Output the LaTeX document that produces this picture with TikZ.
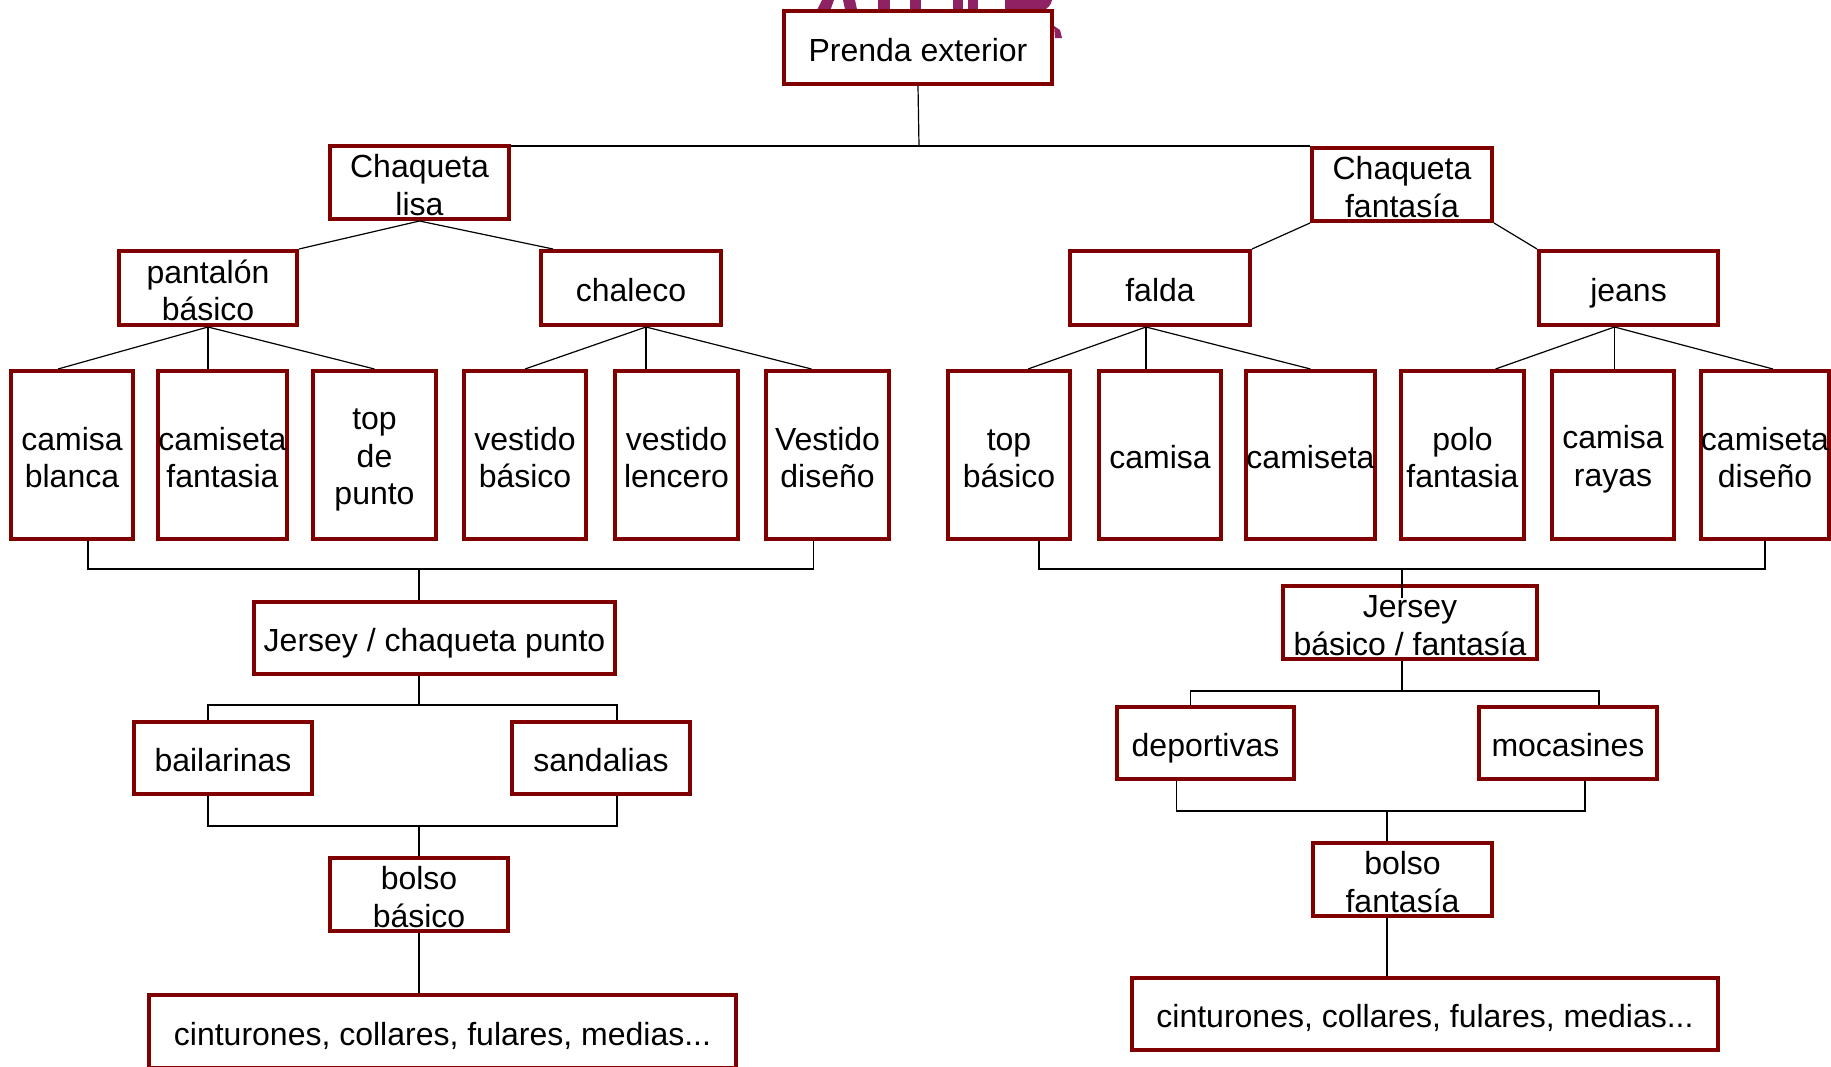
\documentclass[tikz,border=0pt]{standalone}
\usepackage{fontspec}
\setmainfont{Liberation Sans}
\usetikzlibrary{calc}
\definecolor{bxred}{RGB}{128,0,0}
\definecolor{ttl}{RGB}{142,34,98}
\newcommand\bxn[7][sl]{\node[box,#1, minimum width={(#5-#3-4)*0.5pt}, minimum height={(#6-#4-4)*0.5pt}] (#2) at ({(#3+#5)/2},{(#4+#6)/2}) {#7};}
\begin{document}
\begin{tikzpicture}[x=0.5pt,y=-0.5pt,
  box/.style={draw=bxred, line width=2pt, fill=white, inner sep=0pt, align=center,
    font=\fontsize{16}{18.8}\selectfont},
  sl/.style={execute at begin node={\vrule width 0pt height 16.8pt depth 0pt},
    execute at end node={\vrule width 0pt height 0pt depth 3pt}},
  ml/.style={execute at begin node={\vrule width 0pt height 34.5pt depth 0pt},
    execute at end node={\vrule width 0pt height 0pt depth 1.9pt}},
  mlt/.style={execute at begin node={\vrule width 0pt height 53.3pt depth 0pt},
    execute at end node={\vrule width 0pt height 0pt depth 1.9pt}},
  conn/.style={line width=0.6pt, draw=black},
  ttlfill/.style={fill=ttl}]
\useasboundingbox (0,0) rectangle (1831,1066);
\fill[white] (0,0) rectangle (1831,1066);
% partly hidden title behind the top box
\begin{scope}
\clip (780,0) rectangle (1070,40);
\fill[ttlfill] (822,0) -- (834,0) -- (829,14) -- (815,14) -- cycle;
\fill[ttlfill] (843,0) -- (855,0) -- (858,14) -- (846,14) -- cycle;
\fill[ttlfill] (878,0) rectangle (890,14);
\fill[ttlfill] (910,0) rectangle (921,14);
\fill[ttlfill] (953,0) rectangle (963,14);
\fill[ttlfill] (968,0) rectangle (978,14);
\fill[ttlfill] (1005,0) rectangle (1018,14);
\fill[ttlfill] (1018,0) -- (1052,0) .. controls (1050,10) and (1040,14) .. (1018,14) -- cycle;
\fill[ttlfill] (1054,26) -- (1060,30) -- (1062,38) -- (1055,38) -- cycle;
\end{scope}
% boxes
\bxn{pe}{782}{9}{1054}{86}{Prenda exterior}
\bxn[ml]{cl}{328}{144}{511}{221}{Chaqueta\\lisa}
\bxn[ml]{cf}{1310}{146}{1494}{223}{Chaqueta\\fantasía}
\bxn[ml]{pb}{117}{249}{299}{327}{pantalón\\básico}
\bxn{ch}{539}{249}{723}{327}{chaleco}
\bxn{fa}{1068}{249}{1252}{327}{falda}
\bxn{je}{1537}{249}{1720}{327}{jeans}
\bxn[ml]{cb}{9}{369}{135}{541}{camisa\\blanca}
\bxn[ml]{cfa}{159}{369}{286}{541}{camiseta\\fantasia}
\bxn[mlt]{tdp}{311}{369}{438}{541}{top\\de\\punto}
\bxn[ml]{vb}{462}{369}{588}{541}{vestido\\básico}
\bxn[ml]{vl}{613}{369}{740}{541}{vestido\\lencero}
\bxn[ml]{vd}{764}{369}{891}{541}{Vestido\\diseño}
\bxn[ml]{tb}{946}{369}{1072}{541}{top\\básico}
\bxn{ca}{1097}{369}{1223}{541}{camisa}
\bxn{cta}{1247}{369}{1374}{541}{camiseta}
\bxn[ml]{pf}{1399}{369}{1526}{541}{polo\\fantasia}
\bxn[ml]{cr}{1550}{369}{1676}{541}{camisa\\rayas}
\bxn[ml]{cd}{1702}{369}{1828}{541}{camiseta\\diseño}
\bxn{jcp}{252}{600}{617}{676}{Jersey / chaqueta punto}
\bxn{bai}{132}{720}{314}{796}{bailarinas}
\bxn{san}{510}{720}{692}{796}{sandalias}
\bxn[ml]{bb}{328}{856}{510}{933}{bolso\\básico}
\bxn{cinL}{147}{993}{738}{1070}{cinturones, collares, fulares, medias...}
\bxn[ml]{jbf}{1281}{584}{1539}{661}{Jersey\\básico / fantasía}
\bxn{dep}{1115}{705}{1296}{781}{deportivas}
\bxn{moc}{1477}{705}{1659}{781}{mocasines}
\bxn[ml]{bf}{1311}{841}{1494}{918}{bolso\\fantasía}
\bxn{cinR}{1130}{976}{1720}{1052}{cinturones, collares, fulares, medias...}
% connectors: top
\coordinate (hy) at (919,146);
\draw[conn] (pe.south) -- (hy);
\draw[conn] (hy -| cl.east) -- (hy -| cf.west);
\draw[conn] (cl.south) -- (pb.north east);
\draw[conn] (cl.south) -- ($(ch.north west)+(14,0)$);
\draw[conn] (cf.south west) -- (fa.north east);
\draw[conn] (cf.south east) -- (je.north west);
% level 3
\draw[conn] (pb.south) -- ($(cb.north)+(-14,0)$);
\draw[conn] (pb.south) -- (pb.south |- cfa.north);
\draw[conn] (pb.south) -- (tdp.north);
\coordinate (chb) at ($(ch.south)+(15,0)$);
\draw[conn] (chb) -- (vb.north);
\draw[conn] (chb) -- (chb |- vl.north);
\draw[conn] (chb) -- ($(vd.north)+(-16,0)$);
\coordinate (fab) at ($(fa.south)+(-14,0)$);
\draw[conn] (fab) -- ($(tb.north)+(19,0)$);
\draw[conn] (fab) -- (fab |- ca.north);
\draw[conn] (fab) -- (cta.north);
\coordinate (jeb) at ($(je.south)+(-14,0)$);
\draw[conn] (jeb) -- ($(pf.north)+(33,0)$);
\draw[conn] (jeb) -- (jeb |- cr.north);
\draw[conn] (jeb) -- ($(cd.north)+(8,0)$);
% left lower tree
\coordinate (lb) at (419,569);
\coordinate (a1) at ($(cb.south)+(16,0)$);
\coordinate (a2) at ($(vd.south)+(-14,0)$);
\draw[conn] (a1) -- (a1 |- lb) -- (a2 |- lb) -- (a2);
\draw[conn] (lb) -- (lb |- jcp.north);
\coordinate (lb2) at (419,705);
\coordinate (b1) at ($(bai.north)+(-15,0)$);
\coordinate (b2) at ($(san.north)+(16,0)$);
\draw[conn] (lb2 |- jcp.south) -- (lb2);
\draw[conn] (b1) -- (b1 |- lb2) -- (b2 |- lb2) -- (b2);
\coordinate (lb3) at (419,826);
\draw[conn] (b1 |- bai.south) -- (b1 |- lb3) -- (b2 |- lb3) -- (b2 |- san.south);
\draw[conn] (lb3) -- (lb3 |- bb.north);
\draw[conn] (bb.south) -- (bb.south |- cinL.north);
% right lower tree
\coordinate (rb) at (1402,569);
\coordinate (c1) at ($(tb.south)+(30,0)$);
\coordinate (c2) at (cd.south);
\draw[conn] (c1) -- (c1 |- rb) -- (c2 |- rb) -- (c2);
\draw[conn] (rb) -- (1402,598);
\coordinate (rb2) at (1402,691);
\coordinate (d1) at ($(dep.north)+(-15,0)$);
\coordinate (d2) at ($(moc.north)+(31,0)$);
\draw[conn] (rb2 |- jbf.south) -- (rb2);
\draw[conn] (d1) -- (d1 |- rb2) -- (d2 |- rb2) -- (d2);
\coordinate (rb3) at (1387,811);
\coordinate (e1) at ($(dep.south)+(-29,0)$);
\coordinate (e2) at ($(moc.south)+(17,0)$);
\draw[conn] (e1) -- (e1 |- rb3) -- (e2 |- rb3) -- (e2);
\draw[conn] (rb3) -- (rb3 |- bf.north);
\draw[conn] (rb3 |- bf.south) -- (rb3 |- cinR.north);
\end{tikzpicture}
\end{document}
